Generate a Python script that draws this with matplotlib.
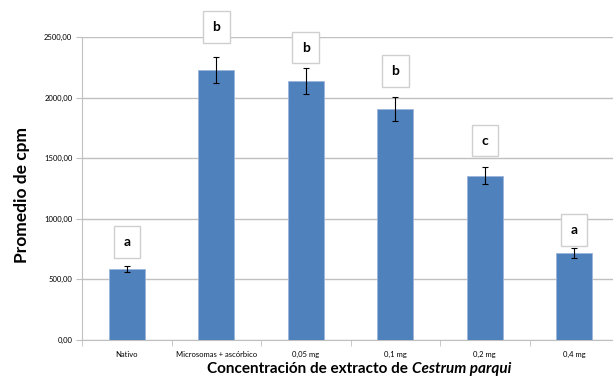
import numpy as np
import matplotlib
matplotlib.use("Agg")
from matplotlib import pyplot as plt
from matplotlib.transforms import offset_copy

categories = ["Nativo", "Microsomas + ascórbico", "0,05 mg", "0,1 mg", "0,2 mg", "0,4 mg"]
means = [586, 2228, 2137, 1906, 1356, 718]
errors = [25, 110, 110, 95, 70, 40]
letters = ["a", "b", "b", "b", "c", "a"]
yticks = [0, 500, 1000, 1500, 2000, 2500]

# height of each letter box centre, in data units
letter_y = [808, 2582, 2413, 2220, 1646, 908]

BAR = "#4f81bd"
GRID = "#c0c0c0"

plt.rcParams["font.family"] = ["Lato", "DejaVu Sans"]

fig = plt.figure(figsize=(6.13, 3.78), dpi=100)
ax = fig.add_axes([82 / 613, 38 / 378, 537 / 613, 303 / 378])

x = np.arange(len(categories))
ax.bar(x, means, width=0.4, color=BAR, edgecolor="#9db5d9", linewidth=0.6, zorder=3)
ax.errorbar(x, means, yerr=errors, fmt="none", ecolor="black", elinewidth=0.8,
            capsize=2, capthick=0.8, zorder=4)

for xi, lab, ly in zip(x, letters, letter_y):
  ax.text(xi, ly, lab, ha="center", va="center", fontsize=10, fontweight="bold",
          zorder=5, clip_on=False,
          bbox=dict(boxstyle="square,pad=0.7", fc="white", ec="#cfcfcf", lw=1))

ax.set_xlim(-0.5, len(categories) - 0.5)
ax.set_ylim(0, 2500)
ax.set_yticks(yticks)
ax.set_yticklabels([f"{v:.2f}".replace(".", ",") for v in yticks], fontsize=5.5)
ax.yaxis.grid(True, color=GRID, linewidth=1, zorder=0)

ax.set_xticks(x)
ax.set_xticklabels(categories, fontsize=5.5)
ax.tick_params(axis="x", length=0, pad=8)
ax.set_xticks(np.arange(-0.5, len(categories)), minor=True)
ax.tick_params(axis="x", which="minor", length=4, color=GRID)
ax.tick_params(axis="y", length=4, color=GRID, pad=3)

for s in ["top", "right"]:
  ax.spines[s].set_visible(False)
for s in ["left", "bottom"]:
  ax.spines[s].set_color(GRID)

fig.text(22 / 613, 1 - 195 / 378, "Promedio de cpm", rotation=90, ha="center",
         va="center", fontsize=12.5, fontweight="bold")

# x label: plain bold part followed by the species name in bold italic
xl = fig.text(207 / 613, 1 - 369 / 378, "Concentración de extracto de ",
              ha="left", va="center", fontsize=11, fontweight="bold")
fig.canvas.draw()
w = xl.get_window_extent().width
fig.text(207 / 613, 1 - 369 / 378, "Cestrum parqui", ha="left", va="center",
         fontsize=11, fontweight="bold", fontstyle="italic",
         transform=offset_copy(fig.transFigure, fig=fig, x=w, units="dots"))

fig.savefig("out.png", dpi=100)
